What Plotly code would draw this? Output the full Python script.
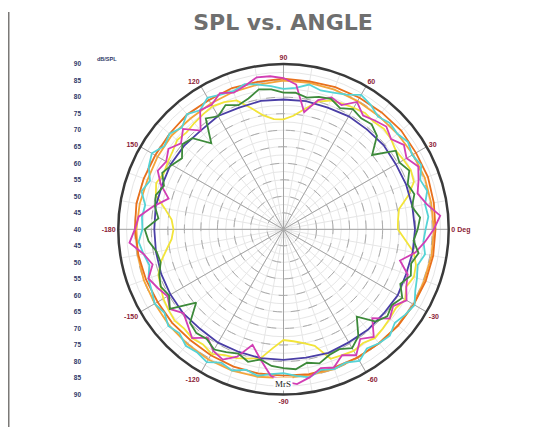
import plotly.graph_objects as go

# ---------------- data ----------------
ang10 = list(range(0, 360, 10))
ang5 = list(range(0, 360, 5))

navy = [79.8, 79.6, 79.5, 79.3, 79.6, 79.4, 79.5, 79.2, 79.4, 79.3, 79.5, 79.2,
        79.6, 79.0, 79.3, 79.4, 79.1, 79.3, 79.1, 79.2, 79.4, 79.5, 79.6, 79.3,
        79.6, 79.5, 79.6, 79.5, 79.4, 79.8, 79.5, 79.7, 79.6, 79.9, 79.5, 79.7]

orange_dark = [86.0, 86.2, 86.5, 86.3, 86.5, 86.2, 86.0, 85.8, 85.5, 85.6, 85.3, 85.5,
               85.2, 85.4, 85.0, 84.8, 85.0, 85.2, 85.0, 84.6, 84.3, 84.0, 84.0, 83.8,
               84.0, 84.2, 84.3, 84.3, 84.5, 84.5, 84.8, 85.0, 85.3, 85.5, 85.8, 86.0]

orange_light = [85.5, 85.4, 85.5, 85.3, 85.0, 84.8, 84.8, 85.0, 85.0, 85.0, 84.5, 84.3,
                84.0, 83.8, 84.2, 84.0, 83.8, 84.2, 84.5, 84.8, 85.0, 85.0, 85.2, 85.3,
                85.5, 85.5, 85.3, 85.0, 84.8, 85.0, 84.8, 85.0, 85.2, 85.5, 85.3, 85.5]

yellow = [74.6, 74.8, 75.5, 79.0, 82.0, 82.5, 82.0, 81.5, 82.5, 83.0, 82.5, 83.0,
          82.5, 82.0, 81.5, 80.0, 77.0, 74.5, 73.3, 73.5, 75.0, 78.0, 81.5, 82.5,
          83.0, 82.5, 82.0, 81.5, 82.0, 81.0, 80.5, 80.0, 81.0, 80.0, 76.5, 74.0,
          73.3, 74.0, 76.0, 78.5, 80.3, 81.0, 82.0, 82.5, 83.0, 82.5, 83.0, 82.5,
          83.5, 82.0, 81.5, 80.5, 79.6, 76.0, 73.5, 74.0, 75.0, 76.5, 81.7, 82.0,
          82.5, 82.0, 83.0, 82.5, 82.0, 81.5, 82.5, 81.0, 82.0, 81.5, 80.0, 77.0]

green = [80.6, 81.5, 79.5, 81.0, 80.0, 82.0, 80.5, 81.5, 75.0, 80.0, 81.5, 81.0,
         82.0, 80.5, 82.0, 81.5, 80.5, 81.5, 81.4, 82.5, 83.0, 81.0, 80.0, 81.5,
         79.5, 81.0, 74.0, 79.0, 80.0, 77.5, 79.0, 80.5, 78.5, 80.0, 79.5, 78.0,
         82.0, 81.0, 79.0, 78.5, 80.0, 81.0, 80.0, 82.0, 74.5, 80.0, 81.0, 80.5,
         82.0, 81.0, 80.0, 81.5, 80.0, 81.5, 82.0, 82.5, 81.0, 82.0, 80.5, 80.0,
         81.5, 79.5, 74.5, 79.5, 81.0, 80.0, 81.5, 79.0, 81.0, 80.0, 81.5, 79.5]

magenta = [85.5, 87.6, 84.0, 82.0, 83.5, 85.0, 83.0, 84.5, 82.5, 84.0, 83.0, 82.0,
           84.5, 81.5, 82.5, 80.5, 76.0, 84.0, 85.8, 86.5, 86.7, 85.0, 84.0, 85.5,
           83.5, 84.0, 79.0, 83.0, 80.5, 82.5, 81.0, 82.0, 79.5, 76.0, 80.0, 84.0,
           85.0, 86.8, 83.0, 81.0, 83.5, 82.0, 80.5, 82.0, 79.5, 81.0, 83.0, 80.0,
           82.5, 83.5, 81.0, 76.2, 80.0, 84.5, 86.0, 87.0, 85.5, 83.5, 84.5, 82.0,
           84.0, 80.5, 82.5, 78.0, 82.0, 80.5, 83.0, 81.0, 80.0, 76.5, 80.5, 83.0]

cyan = [83.0, 84.0, 83.5, 85.0, 84.0, 86.0, 85.0, 86.0, 85.0, 85.5, 84.5, 86.0,
        87.0, 85.0, 84.0, 83.5, 84.5, 83.0, 82.5, 83.5, 84.5, 85.5, 84.5, 85.0,
        86.0, 84.0, 85.5, 83.5, 85.0, 84.0, 86.0, 85.0, 83.0, 84.5, 82.5, 83.0,
        82.7, 84.0, 83.0, 82.0, 83.5, 84.0, 85.0, 84.0, 85.5, 84.5, 86.0, 85.5,
        86.4, 84.5, 85.5, 84.0, 85.0, 84.0, 83.5, 84.5, 85.5, 84.0, 85.0, 84.5,
        86.0, 84.0, 85.0, 85.5, 84.0, 85.0, 85.8, 84.0, 83.0, 82.0, 83.5, 82.5]

angle_ticks = [0, 30, 60, 90, 120, 150, 180, 210, 240, 270, 300, 330]
angle_labels = ["0 Deg", "30", "60", "90", "120", "150", "-180",
                "-150", "-120", "-90", "-60", "-30"]

spl_offsets = [50, 45, 40, 35, 30, 25, 20, 15, 10, 5, 0,
               -5, -10, -15, -20, -25, -30, -35, -40, -45, -50]
spl_labels = ["90", "85", "80", "75", "70", "65", "60", "55", "50", "45", "40",
              "45", "50", "55", "60", "65", "70", "75", "80", "85", "90"]

ring_ticks = [45, 50, 55, 60, 65, 70, 75, 80, 85]

series = [
    ("orange_light", ang10, orange_light, "#f4a53a"),
    ("orange_dark", ang10, orange_dark, "#e8701c"),
    ("cyan", ang5, cyan, "#55d3d6"),
    ("yellow", ang5, yellow, "#f2e43a"),
    ("navy", ang10, navy, "#4a3ea6"),
    ("magenta", ang5, magenta, "#d23eb4"),
    ("green", ang5, green, "#3d8a3a"),
]

# ---------------- figure ----------------
# the page body has an 8px margin; work in screen pixels and convert
OFF = 8
W, H = 551 - OFF, 430 - OFF


def px(x):
    return (x - OFF) / W


def py(y):
    return 1 - (y - OFF) / H


fig = go.Figure()

fig.add_trace(go.Scatterpolar(r=[40], theta=[0], mode="markers",
                              marker=dict(opacity=0), hoverinfo="skip",
                              showlegend=False, subplot="polar"))

for name, th, rr, col in series:
    fig.add_trace(go.Scatterpolar(
        r=rr + [rr[0]], theta=th + [th[0]], mode="lines", name=name,
        line=dict(color=col, width=1.8), showlegend=False, subplot="polar2"))

fig.add_trace(go.Scatter(x=[0] * len(spl_offsets), y=spl_offsets, mode="markers",
                         marker=dict(opacity=0), hoverinfo="skip", showlegend=False))

dom_x = [px(115.5), px(451.5)]
dom_y = [py(397), py(61)]

fig.update_layout(
    width=W, height=H,
    margin=dict(l=0, r=0, t=0, b=0),
    paper_bgcolor="white",
    plot_bgcolor="rgba(0,0,0,0)",
    title=dict(text="<b>SPL vs. ANGLE</b>", x=px(283), xanchor="center",
               y=py(22), yanchor="middle",
               font=dict(family="DejaVu Sans", size=22, color="#6f6f6f")),
    polar=dict(
        domain=dict(x=dom_x, y=dom_y),
        bgcolor="white",
        radialaxis=dict(range=[40, 90], dtick=2.5, showticklabels=False,
                        showline=False, ticks="", gridcolor="#e6e6e6", gridwidth=1),
        angularaxis=dict(rotation=0, direction="counterclockwise", dtick=10,
                         showticklabels=False, ticks="", showline=False,
                         gridcolor="#e6e6e6", gridwidth=1),
    ),
    polar2=dict(
        domain=dict(x=dom_x, y=dom_y),
        bgcolor="rgba(0,0,0,0)",
        radialaxis=dict(range=[40, 90], tickvals=ring_ticks, showticklabels=False,
                        showline=False, ticks="", gridcolor="#ababab",
                        griddash="dash", gridwidth=1),
        angularaxis=dict(rotation=0, direction="counterclockwise",
                         tickvals=angle_ticks, ticktext=angle_labels, ticks="",
                         showline=True, linecolor="#3a3a3a", linewidth=2.5,
                         gridcolor="#a4a4a4", gridwidth=1,
                         tickfont=dict(family="Liberation Sans", size=7,
                                       color="#8c2236", weight="bold")),
    ),
    xaxis=dict(domain=[0.0, 0.1], range=[0, 1], visible=False),
    yaxis=dict(domain=dom_y, range=[-50, 50], tickvals=spl_offsets,
               ticktext=spl_labels, showgrid=False, zeroline=False,
               showline=False, ticks="", anchor="free", side="left",
               position=px(81),
               tickfont=dict(family="Liberation Sans", size=6.5,
                             color="#2e3868", weight="bold")),
)

fig.add_annotation(text="dB/SPL", x=px(95), y=py(51), xref="paper", yref="paper",
                   showarrow=False, font=dict(family="Liberation Sans", size=5.5,
                                              color="#2e3868", weight="bold"))
fig.add_annotation(text="MrS", x=px(283), y=py(393), xref="paper", yref="paper",
                   showarrow=False, bgcolor="white",
                   font=dict(family="Liberation Serif", size=9, color="#222222"))

# photo frame edge (left grey strip)
fig.add_shape(type="rect", xref="paper", yref="paper", x0=0, x1=px(9.5),
              y0=0, y1=1, fillcolor="#7b7977", line_width=0, layer="above")

fig.write_html("out.html")
